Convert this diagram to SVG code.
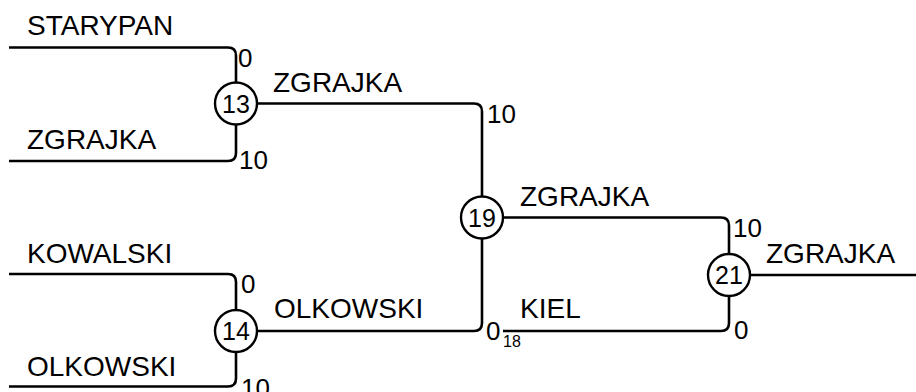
<svg xmlns="http://www.w3.org/2000/svg" width="916" height="392" viewBox="0 0 916 392">
<style>
.c{fill:none;stroke:#000;stroke-width:2.6;stroke-linejoin:round}
.n{fill:#fff;stroke:#000;stroke-width:2.4}
.t{font-family:"Liberation Sans",Arial,sans-serif;font-size:28px;fill:#000}
.s{font-family:"Liberation Sans",Arial,sans-serif;font-size:26px;fill:#000}
.nl{font-family:"Liberation Sans",Arial,sans-serif;font-size:25px;fill:#000;text-anchor:middle}
.x{font-family:"Liberation Sans",Arial,sans-serif;font-size:16px;fill:#000}
</style>
<rect width="916" height="392" fill="#fff"/>
<g id="connectors">
<path class="c" d="M9,47.5 H228 Q236,47.5 236,55.5 V82.5"/>
<path class="c" d="M9,161 H228 Q236,161 236,153 V124.5"/>
<path class="c" d="M257,103.5 H474 Q482,103.5 482,111.5 V196.5"/>
<path class="c" d="M9,274 H228 Q236,274 236,282 V310"/>
<path class="c" d="M9,386.5 H228 Q236,386.5 236,378.5 V352"/>
<path class="c" d="M257,331 H474 Q482,331 482,323 V238.5"/>
<path class="c" d="M503,217.5 H721 Q729,217.5 729,225.5 V254"/>
<path class="c" d="M503,331 H721 Q729,331 729,323 V296"/>
<path class="c" d="M750,275 H916"/>
</g>
<g id="labels">
<text class="t" x="27" y="35">STARYPAN</text>
<text class="t" x="27" y="149">ZGRAJKA</text>
<text class="t" x="27" y="263">KOWALSKI</text>
<text class="t" x="27" y="376">OLKOWSKI</text>
<text class="t" x="273" y="92">ZGRAJKA</text>
<text class="t" x="274" y="318">OLKOWSKI</text>
<text class="t" x="520" y="206">ZGRAJKA</text>
<text class="t" x="520" y="318">KIEL</text>
<text class="t" x="766" y="263">ZGRAJKA</text>
<text class="s" x="238" y="67">0</text>
<text class="s" x="239" y="169">10</text>
<text class="s" x="487" y="123">10</text>
<text class="s" x="241" y="293">0</text>
<text class="s" x="241" y="397">10</text>
<text class="s" x="486" y="340">0</text>
<text class="x" x="503" y="347">18</text>
<text class="s" x="733" y="237">10</text>
<text class="s" x="734" y="339">0</text>
</g>
<g id="node13"><circle class="n" cx="236" cy="103.5" r="21"/><text class="nl" x="236" y="112.5">13</text></g>
<g id="node14"><circle class="n" cx="236" cy="331" r="21"/><text class="nl" x="236" y="340">14</text></g>
<g id="node19"><circle class="n" cx="482" cy="217.5" r="21"/><text class="nl" x="482" y="226.5">19</text></g>
<g id="node21"><circle class="n" cx="729" cy="275" r="21"/><text class="nl" x="729" y="284">21</text></g>
</svg>
